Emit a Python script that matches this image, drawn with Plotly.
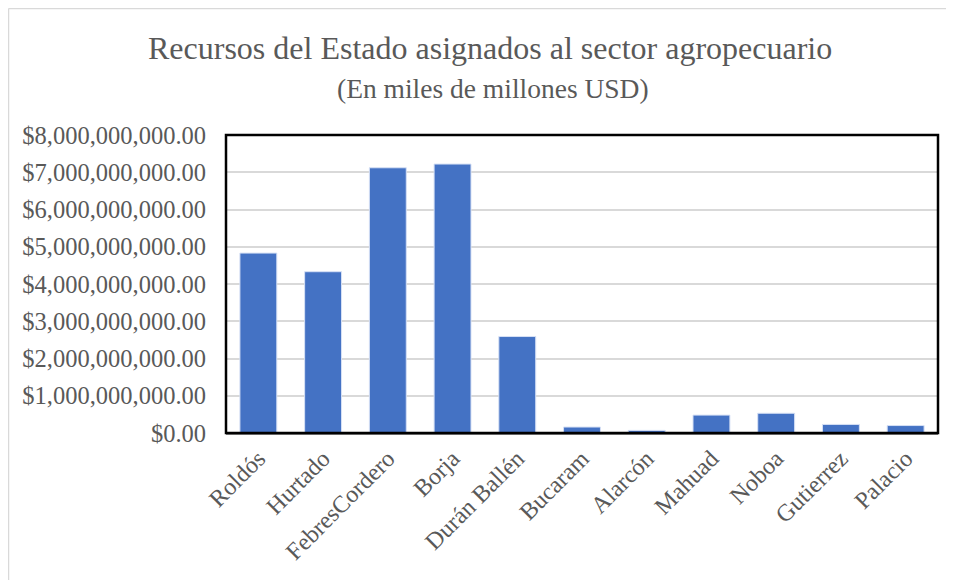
import plotly.graph_objects as go

# Categories and values (USD)
presidentes = ['Roldós', 'Hurtado', 'FebresCordero', 'Borja', 'Durán Ballén',
               'Bucaram', 'Alarcón', 'Mahuad', 'Noboa', 'Gutierrez', 'Palacio']
recursos = [4.83e9, 4.33e9, 7.12e9, 7.22e9, 2.59e9,
            0.16e9, 0.07e9, 0.48e9, 0.53e9, 0.23e9, 0.20e9]
y_ticks = [0, 1e9, 2e9, 3e9, 4e9, 5e9, 6e9, 7e9, 8e9]

serif = 'Liberation Serif, Times New Roman, serif'
gris = '#595959'

fig = go.Figure(go.Bar(
    x=presidentes, y=recursos,
    marker=dict(color='#4472C4', line=dict(color='#D6E0F5', width=1)),
))

# the page adds an 8px body margin, so the figure is 8px smaller
fig.update_layout(
    width=946, height=572,
    margin=dict(l=218, r=16, t=127, b=147),
    paper_bgcolor='white', plot_bgcolor='white',
    bargap=0.43,
    showlegend=False,
    font=dict(family=serif, color=gris),
    annotations=[
        dict(text='Recursos del Estado asignados al sector agropecuario',
             xref='paper', yref='paper', x=(490 - 226) / 712, y=(433 - 48) / 298,
             xanchor='center', yanchor='middle', showarrow=False,
             font=dict(family=serif, size=32, color=gris)),
        dict(text='(En miles de millones USD)',
             xref='paper', yref='paper', x=(493 - 226) / 712, y=(433 - 88) / 298,
             xanchor='center', yanchor='middle', showarrow=False,
             font=dict(family=serif, size=27.5, color=gris)),
    ],
    shapes=[
        # outer chart frame (only its left and top edges are in view)
        dict(type='line', xref='paper', yref='paper',
             x0=(8.5 - 226) / 712, x1=(8.5 - 226) / 712,
             y0=(433 - 700) / 298, y1=(433 - 8.5) / 298,
             line=dict(color='#D9D9D9', width=1.5), layer='below'),
        dict(type='line', xref='paper', yref='paper',
             x0=(8.5 - 226) / 712, x1=(1100 - 226) / 712,
             y0=(433 - 8.5) / 298, y1=(433 - 8.5) / 298,
             line=dict(color='#D9D9D9', width=1.5), layer='below'),
        # plot area border
        dict(type='rect', xref='paper', yref='paper', x0=0, x1=1, y0=0, y1=1,
             line=dict(color='black', width=2.5), layer='above'),
    ],
)

fig.update_xaxes(
    tickangle=-45, tickfont=dict(family=serif, size=24, color=gris),
    showline=True, linecolor='#868686', linewidth=2,
    showgrid=False, ticks='',
)
fig.update_yaxes(
    range=[0, 8e9], tickvals=y_ticks, tickformat='$,.2f',
    tickfont=dict(family=serif, size=24.5, color=gris),
    ticklabelstandoff=19,
    showgrid=True, gridcolor='#D9D9D9', gridwidth=2,
    zeroline=False, ticks='', ticklen=0,
)

# hide the page scrollbars so the right edge stays clean
fig.write_html('out.html', post_script="document.body.style.overflow = 'hidden';")
